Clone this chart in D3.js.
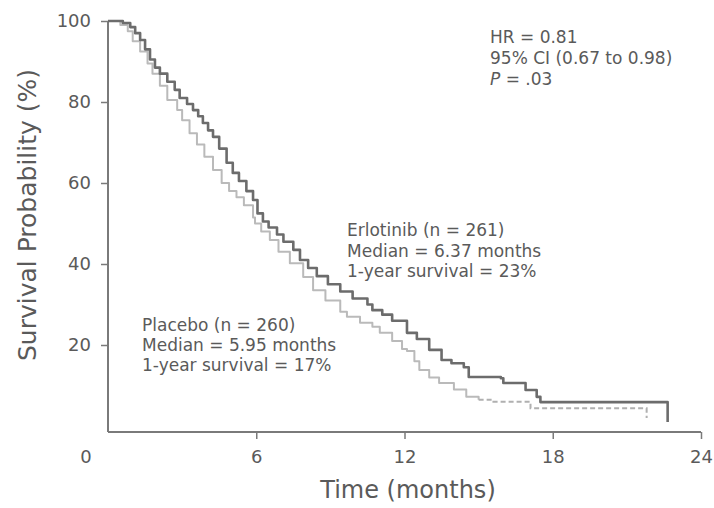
<!DOCTYPE html>
<html><head><meta charset="utf-8">
<script src="https://cdn.jsdelivr.net/npm/d3@7"></script>
<style>
html,body{margin:0;padding:0;background:#fff;}
svg text{font-family:"DejaVu Sans",Verdana,sans-serif;}
</style></head>
<body>
<svg id="chart" width="714" height="508"></svg>
<script>
// ---- data ----
const erlotinibTime = [0,0.6,0.9,1.1,1.3,1.5,1.7,1.9,2.1,2.4,2.7,2.9,3.2,3.44,3.65,3.84,4.05,4.25,4.5,4.8,5.05,5.3,5.6,5.87,6.05,6.27,6.5,6.84,7.1,7.5,7.77,8.1,8.45,8.9,9.4,9.9,10.5,10.7,11.1,11.5,12.1,12.5,13.0,13.5,13.9,14.4,14.6,15.9,16.0,16.9,17.35,17.5,22.65,22.65];
const erlotinibSurv = [100,99.5,98.5,97,95.3,93,90.5,88.5,87,85,83,81,79.5,78,76.5,74.8,73,71.4,68.5,65,62.5,60.5,58,55.8,52.5,50.5,49,47.3,45.5,43.5,41,39,37,35,33.2,31.5,30,28.6,27.5,26,23,21.5,18.8,16.3,15.5,14.5,12.1,11.8,10.6,8.9,7.2,5.9,5.9,1];
const placeboTime = [0,0.5,0.8,1.0,1.3,1.6,1.8,2.1,2.4,2.8,3.0,3.3,3.6,3.9,4.25,4.6,4.9,5.2,5.5,5.87,5.95,6.2,6.55,6.9,7.36,7.9,8.3,8.8,9.4,9.67,10.2,10.7,11.0,11.5,11.9,12.1,12.4,12.6,13.0,13.4,14.0,14.5,15.0,15.6,17.1,21.8,21.8];
const placeboSurv = [100,99,97.5,95,92.5,89.5,87,84,80.5,78,75.5,72.3,69.5,66.5,63.2,60,58,56.5,54.5,51.5,50,48,45.9,43,40.2,36.8,33.5,31,28.2,27,25.5,24.5,23,21,19,18.5,16,13.8,12,10.6,9,7.2,6.5,6.0,4.4,4.4,2];
const xTicks = [6,12,18,24];
const yTicks = [20,40,60,80,100];
const hrLines = ["HR = 0.81","95% CI (0.67 to 0.98)"];
const pLine = ["P", " = .03"];
const erlotinibLabel = ["Erlotinib (n = 261)","Median = 6.37 months","1-year survival = 23%"];
const placeboLabel = ["Placebo (n = 260)","Median = 5.95 months","1-year survival = 17%"];

// ---- chart ----
const svg = d3.select("#chart");
const x = d3.scaleLinear().domain([0,24]).range([108,701]);
const y = d3.scaleLinear().domain([0,100]).range([426,21]);
const axisY = 432;
const axisColor = "#7a7a7a";
const textColor = "#5a5a5a";
const font = "'DejaVu Sans',Verdana,sans-serif";

// axis lines
svg.append("line").attr("x1",x(0)).attr("x2",x(24)).attr("y1",axisY).attr("y2",axisY)
  .attr("stroke",axisColor).attr("stroke-width",2);
svg.append("line").attr("x1",x(0)).attr("x2",x(0)).attr("y1",y(100)).attr("y2",axisY)
  .attr("stroke",axisColor).attr("stroke-width",2);

const gx = svg.append("g").attr("transform",`translate(0,${axisY})`)
  .call(d3.axisBottom(x).tickValues(xTicks).tickSize(7).tickSizeOuter(0).tickPadding(11).tickFormat(d3.format("d")));
const gy = svg.append("g").attr("transform",`translate(${x(0)},0)`)
  .call(d3.axisLeft(y).tickValues(yTicks).tickSize(7).tickSizeOuter(0).tickPadding(10).tickFormat(d3.format("d")));
[gx,gy].forEach(g=>{
  g.select(".domain").remove();
  g.selectAll(".tick line").attr("stroke",axisColor).attr("stroke-width",1.5);
  g.selectAll(".tick text").attr("fill",textColor).style("font-size","18px").style("font-family",font);
});
// shared zero label
svg.append("text").attr("x",86).attr("y",463).attr("text-anchor","middle")
  .attr("fill",textColor).style("font-size","18px").text("0");

// axis titles
svg.append("text").attr("x",408).attr("y",498).attr("text-anchor","middle")
  .attr("fill",textColor).style("font-size","24px").text("Time (months)");
svg.append("text").attr("transform","translate(36,215) rotate(-90)").attr("text-anchor","middle")
  .attr("fill",textColor).style("font-size","25px").text("Survival Probability (%)");

// curves
const line = d3.line().x(d=>x(d[0])).y(d=>y(d[1])).curve(d3.curveStepAfter);
const placeboData = placeboTime.map((t,i)=>[t,placeboSurv[i]]);
const erlotinibData = erlotinibTime.map((t,i)=>[t,erlotinibSurv[i]]);
const split = placeboTime.indexOf(15.0);
svg.append("path").datum(placeboData.slice(0, split+1)).attr("d",line).attr("fill","none")
  .attr("stroke","#bababa").attr("stroke-width",2).attr("stroke-linejoin","round");
svg.append("path").datum(placeboData.slice(split)).attr("d",line).attr("fill","none")
  .attr("stroke","#b0b0b0").attr("stroke-width",2).attr("stroke-dasharray","5,3");
svg.append("path").datum(erlotinibData).attr("d",line).attr("fill","none")
  .attr("stroke","#6c6c6c").attr("stroke-width",2.6).attr("stroke-linejoin","round");

// annotations
const annColor = "#5a5a5a";
const hr = svg.append("text").attr("fill",annColor).style("font-size","17px");
hrLines.forEach((s,i)=>hr.append("tspan").attr("x",490).attr("y",43+21*i).text(s));
const p = svg.append("text").attr("x",490).attr("y",85).attr("fill",annColor).style("font-size","17px");
p.append("tspan").style("font-style","italic").text(pLine[0]);
p.append("tspan").text(pLine[1]);

const el = svg.append("text").attr("fill",annColor).style("font-size","17px");
erlotinibLabel.forEach((s,i)=>el.append("tspan").attr("x",347).attr("y",236+20.5*i).text(s));
const pl = svg.append("text").attr("fill",annColor).style("font-size","17px");
placeboLabel.forEach((s,i)=>pl.append("tspan").attr("x",142).attr("y",331+20*i).text(s));
</script>
</body></html>
